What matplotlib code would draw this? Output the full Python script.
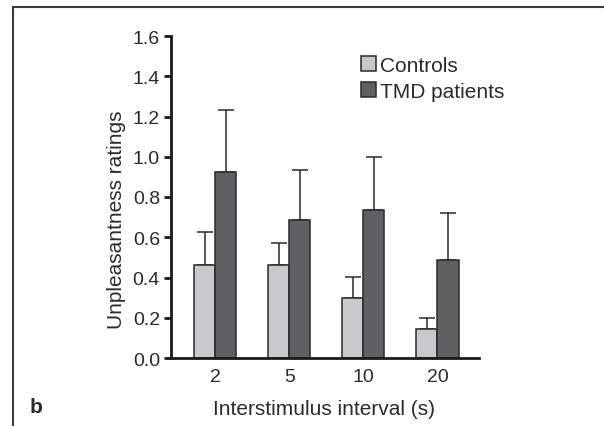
import numpy as np
import matplotlib
matplotlib.use('Agg')
import matplotlib.pyplot as plt
from matplotlib.patches import Rectangle

plt.rcParams['font.family'] = ['Liberation Sans', 'DejaVu Sans']

# data
intervals = ['2', '5', '10', '20']
controls = [0.464, 0.460, 0.300, 0.146]
controls_err = [0.163, 0.109, 0.103, 0.054]
tmd = [0.925, 0.688, 0.736, 0.489]
tmd_err = [0.307, 0.245, 0.264, 0.230]

c_light = '#c8c9cb'
c_dark = '#5f6062'
edge = '#2a2a2a'
txt = '#2b2b2b'

fig = plt.figure(figsize=(6.04, 4.27), dpi=100)
ax = fig.add_axes([171/604, 1-359/427, (479-171)/604, (359-37)/427])

x = np.arange(len(intervals))
w = 0.284

ax.bar(x - w/2, controls, w, color=c_light, edgecolor=edge, linewidth=1.1,
       label='Controls', zorder=2)
ax.bar(x + w/2, tmd, w, color=c_dark, edgecolor=edge, linewidth=1.1,
       label='TMD patients', zorder=2)

# upward error bars only
ax.errorbar(x - w/2, controls, yerr=[np.zeros(4), controls_err], fmt='none',
            ecolor=edge, elinewidth=1.1, capsize=5.5, capthick=1.1, zorder=1)
ax.errorbar(x + w/2, tmd, yerr=[np.zeros(4), tmd_err], fmt='none',
            ecolor=edge, elinewidth=1.1, capsize=5.5, capthick=1.1, zorder=1)

ax.set_xlim(-0.601, 3.561)
ax.set_ylim(0, 1.6)
ax.set_yticks(np.arange(0, 1.61, 0.2))
ax.set_yticklabels(['%.1f' % v for v in np.arange(0, 1.61, 0.2)])
ax.set_xticks(x)
ax.set_xticklabels(intervals)

for s in ['top', 'right']:
    ax.spines[s].set_visible(False)
for s in ['left', 'bottom']:
    ax.spines[s].set_linewidth(2.0)
    ax.spines[s].set_color('#1a1a1a')

ax.tick_params(axis='y', direction='out', length=5, width=2, color='#1a1a1a',
               labelsize=14, labelcolor=txt, pad=3)
ax.tick_params(axis='x', length=0, labelsize=14, labelcolor=txt, pad=7)

ax.set_ylabel('Unpleasantness ratings', fontsize=15, color=txt)
ax.yaxis.label.set_va('center')
ax.yaxis.set_label_coords((117-171)/308, (359-220)/322)
ax.set_xlabel('Interstimulus interval (s)', fontsize=15, color=txt)
ax.xaxis.label.set_va('center')
ax.xaxis.set_label_coords((324-171)/308, (359-410)/322)

leg = ax.legend(loc='upper left', bbox_to_anchor=((361-171)/308, (359-57)/322),
                frameon=False, fontsize=15, handlelength=0.72, handleheight=0.72,
                handletextpad=0.2, labelspacing=0.32, borderaxespad=0,
                borderpad=0, labelcolor=txt)

fig.text(30/604, 1-408/427, 'b', fontsize=15, fontweight='bold', color=txt,
         va='center', ha='left')

# panel frame
fig.patches.append(Rectangle((13/604, -0.1), 1.2, 1-8/427+0.1, transform=fig.transFigure,
                             fill=False, edgecolor='#3a3a3a', linewidth=1.5))

fig.savefig('out.png', dpi=100)
